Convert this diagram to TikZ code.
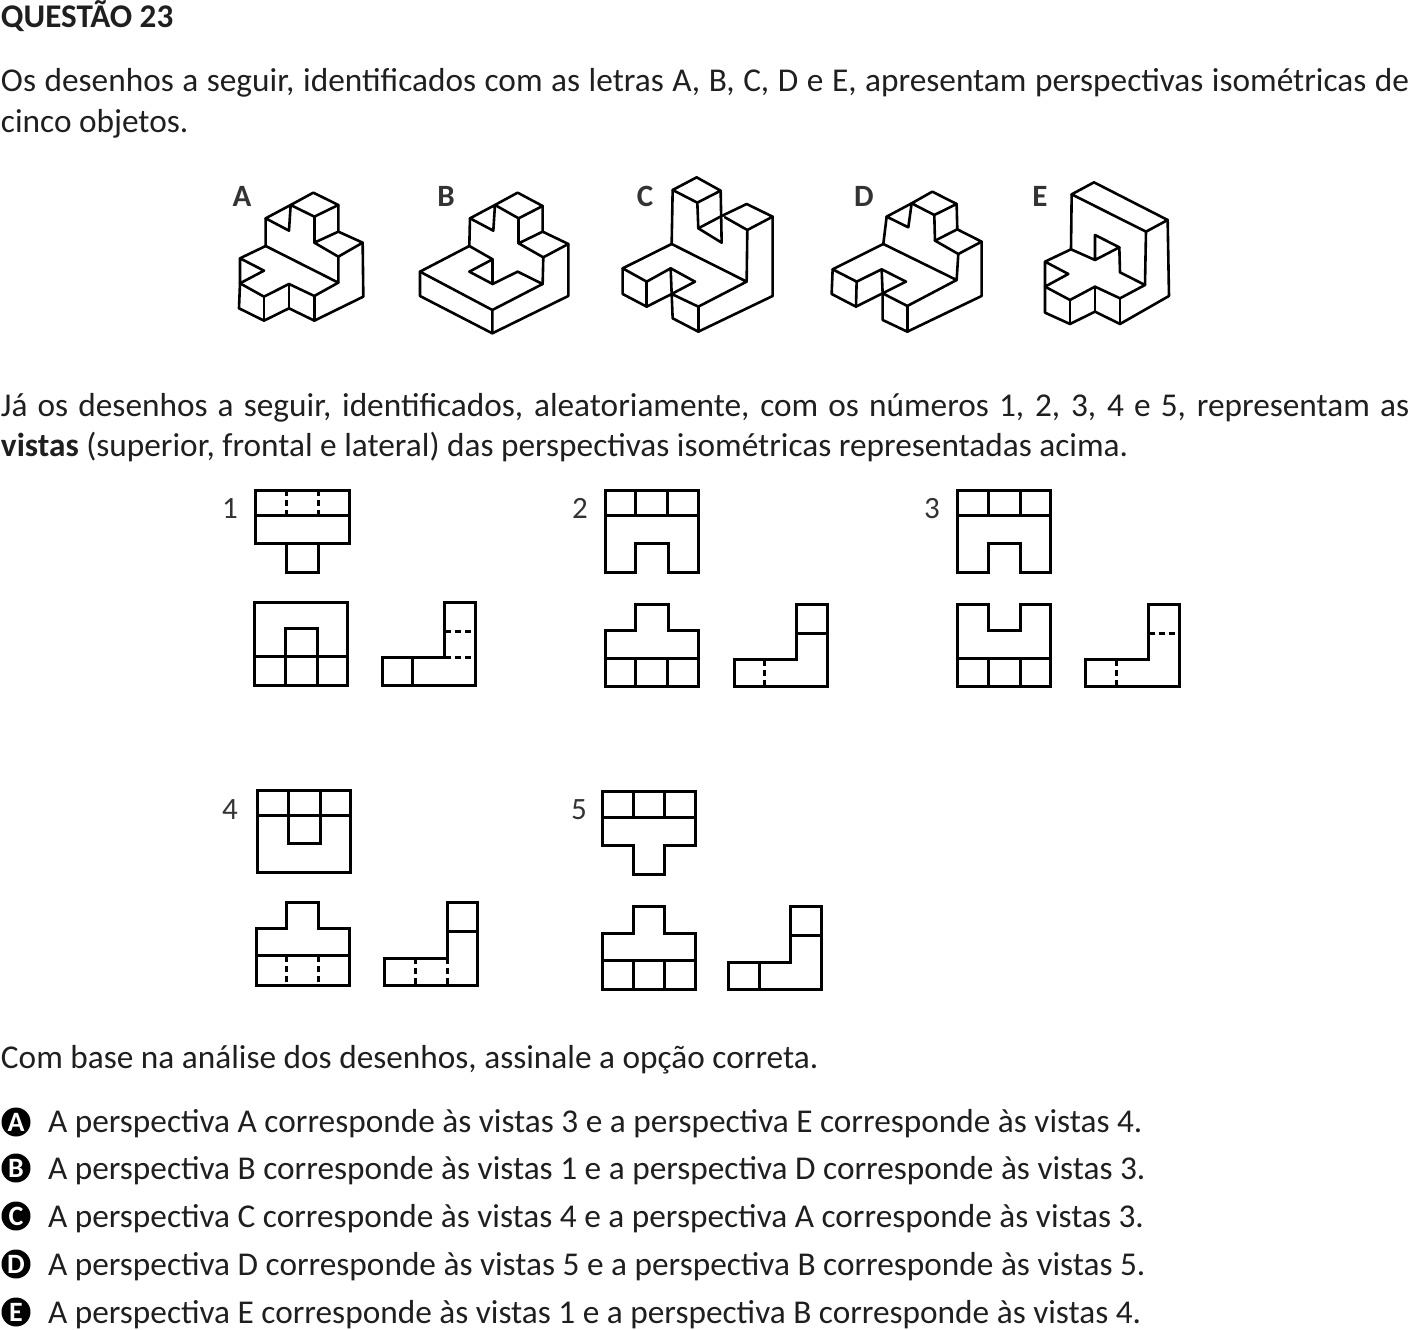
\documentclass[tikz,border=0pt]{standalone}
\usepackage{fontspec}
\setmainfont{Carlito}
\tikzset{
  bodytext/.style={anchor=base west,inner sep=0pt,outer sep=0pt,font=\fontsize{33.3}{38}\selectfont,text=black!88},
  headtext/.style={bodytext,font=\fontsize{33.1}{38}\selectfont\bfseries},
  isolabel/.style={anchor=base,inner sep=0pt,font=\fontsize{31}{36}\selectfont\bfseries,text=black!80},
  viewnum/.style={anchor=base,inner sep=0pt,font=\fontsize{31}{36}\selectfont,text=black!80},
  optcircle/.style={circle,fill=black,draw=none,minimum size=29pt,inner sep=0pt,text=white,font=\fontsize{28}{28}\selectfont\bfseries},
  isoline/.style={black,line width=2.6pt,line join=round,line cap=round},
  viewline/.style={black,line width=3pt,line join=miter},
  hiddenline/.style={black,line width=3pt,dash pattern=on 6pt off 4pt},
  zoomed/.style={x=0.3333pt,y=-0.3333pt}
}
\begin{document}
\begin{tikzpicture}[x=1pt,y=-1pt]
  \useasboundingbox (0,0) rectangle (1411,1330);
  % texts
  \node[headtext] (title) at (1,28) {QUESTÃO 23};
  \node[bodytext] (intro1) at (1,92) {\makebox[1408pt][s]{Os desenhos a seguir, identificados com as letras A, B, C, D e E, apresentam perspectivas isométricas de}};
  \node[bodytext] (intro2) at (1,132) {cinco objetos.};
  \node[bodytext] (next1) at (1,416) {\makebox[1408pt][s]{Já os desenhos a seguir, identificados, aleatoriamente, com os números 1, 2, 3, 4 e 5, representam as}};
  \node[bodytext] (next2) at (1,456) {\textbf{vistas} (superior, frontal e lateral) das perspectivas isométricas representadas acima.};
  \node[bodytext] (ask) at (1,1068) {Com base na análise dos desenhos, assinale a opção correta.};
  % options
  \node[optcircle] (ca) at (16,1122) {A};
  \node[optcircle] (cb) at (16,1168) {B};
  \node[optcircle] (cc) at (16,1216) {C};
  \node[optcircle] (cd) at (16,1264) {D};
  \node[optcircle] (ce) at (16,1312) {E};
  \node[bodytext] (oa) at (48,1132) {A perspectiva A corresponde às vistas 3 e a perspectiva E corresponde às vistas 4.};
  \node[bodytext] (ob) at (48,1179) {A perspectiva B corresponde às vistas 1 e a perspectiva D corresponde às vistas 3.};
  \node[bodytext] (oc) at (48,1227) {A perspectiva C corresponde às vistas 4 e a perspectiva A corresponde às vistas 3.};
  \node[bodytext] (od) at (48,1275) {A perspectiva D corresponde às vistas 5 e a perspectiva B corresponde às vistas 5.};
  \node[bodytext] (oe) at (48,1323) {A perspectiva E corresponde às vistas 1 e a perspectiva B corresponde às vistas 4.};
  % letters of the perspectives
  \node[isolabel] (la) at (242,206) {A};
  \node[isolabel] (lb) at (446,206) {B};
  \node[isolabel] (lc) at (645,206) {C};
  \node[isolabel] (ld) at (864,206) {D};
  \node[isolabel] (le) at (1040,206) {E};
  % numbers of the views
  \node[viewnum] (n1) at (230,518) {1};
  \node[viewnum] (n2) at (580,518) {2};
  \node[viewnum] (n3) at (932,518) {3};
  \node[viewnum] (n4) at (230,819) {4};
  \node[viewnum] (n5) at (579,819) {5};
  % perspectives A and B
  \begin{scope}[shift={(220,170)},zoomed]
    \draw[isoline] (280,68) -- (355,105) -- (283,140) -- (212,105) -- cycle;
    \draw[isoline] (355,105) -- (355,185) -- (283,218) -- (355,260) -- (428,218) -- (355,185);
    \draw[isoline] (283,140) -- (283,218);
    \draw[isoline] (212,105) -- (137,145) -- (207,182) -- cycle;
    \draw[isoline] (137,145) -- (137,228) -- (355,338) -- (355,260);
    \draw[isoline] (137,228) -- (60,265) -- (132,302) -- (60,340) -- (60,265);
    \draw[isoline] (60,340) -- (132,380) -- (207,342) -- (283,378) -- (355,338);
    \draw[isoline] (428,218) -- (430,380) -- (283,452) -- (207,415) -- (132,452) -- (57,415) -- (60,340);
    \draw[isoline] (132,380) -- (132,452);
    \draw[isoline] (207,342) -- (207,415);
    \draw[isoline] (283,378) -- (283,452);
    \draw[isoline] (893,68) -- (968,108) -- (896,145) -- (825,105) -- cycle;
    \draw[isoline] (968,108) -- (968,185) -- (896,220) -- (970,262) -- (1045,222) -- (968,185);
    \draw[isoline] (896,145) -- (896,220);
    \draw[isoline] (825,105) -- (750,145) -- (820,182) -- cycle;
    \draw[isoline] (750,145) -- (748,228) -- (818,268) -- (748,305) -- (818,342) -- (893,305) -- (968,342) -- (817,420);
    \draw[isoline] (818,268) -- (818,342);
    \draw[isoline] (970,262) -- (968,342);
    \draw[isoline] (748,228) -- (600,305) -- (817,420) -- (817,490);
    \draw[isoline] (600,305) -- (600,378) -- (817,490) -- (1045,378) -- (1045,222);
  \end{scope}
  % perspectives C and D
  \begin{scope}[shift={(600,170)},zoomed]
    \draw[isoline] (290,22) -- (362,62) -- (292,98) -- (218,60) -- cycle;
    \draw[isoline] (218,60) -- (215,222);
    \draw[isoline] (292,98) -- (295,175) -- (365,218) -- (362,62);
    \draw[isoline] (295,175) -- (365,138) -- (440,102) -- (518,140) -- (442,180) -- (375,142);
    \draw[isoline] (518,140) -- (518,378) -- (295,485) -- (218,445) -- (215,372);
    \draw[isoline] (442,180) -- (440,335);
    \draw[isoline] (215,222) -- (440,335) -- (295,410) -- (215,372) -- (285,335) -- (212,295) -- (140,335) -- (68,295) -- cycle;
    \draw[isoline] (68,295) -- (68,372) -- (140,410) -- (215,372);
    \draw[isoline] (140,335) -- (140,410);
    \draw[isoline] (212,295) -- (215,372);
    \draw[isoline] (295,410) -- (295,485);
    \draw[isoline] (997,65) -- (1070,102) -- (1003,135) -- (935,100) -- cycle;
    \draw[isoline] (935,100) -- (860,140) -- (925,172) -- cycle;
    \draw[isoline] (860,140) -- (850,222);
    \draw[isoline] (1003,135) -- (1005,212);
    \draw[isoline] (1070,102) -- (1072,178) -- (1005,212) -- (1075,252) -- (1145,215) -- (1072,178);
    \draw[isoline] (1145,215) -- (1145,378) -- (922,485) -- (848,450) -- (848,370);
    \draw[isoline] (1075,252) -- (1070,330);
    \draw[isoline] (850,222) -- (1070,330) -- (922,408) -- (848,370) -- (918,335) -- (845,298) -- (770,335) -- (698,298) -- cycle;
    \draw[isoline] (698,298) -- (695,372) -- (768,410) -- (848,370);
    \draw[isoline] (770,335) -- (768,410);
    \draw[isoline] (845,298) -- (848,370);
    \draw[isoline] (922,408) -- (922,485);
  \end{scope}
  % perspective E
  \begin{scope}[shift={(1020,170)},zoomed]
    \draw[isoline] (222,37) -- (443,150) -- (378,185) -- (155,73) -- cycle;
    \draw[isoline] (155,73) -- (153,238) -- (225,270) -- (298,232) -- (225,195) -- (225,270);
    \draw[isoline] (443,150) -- (447,378) -- (300,462) -- (225,425) -- (150,462) -- (75,428) -- (75,350);
    \draw[isoline] (378,185) -- (375,345);
    \draw[isoline] (298,232) -- (300,307) -- (375,345) -- (300,385) -- (225,350) -- (150,390) -- (75,350);
    \draw[isoline] (153,238) -- (75,275) -- (145,312) -- (75,350) -- (75,275);
    \draw[isoline] (150,390) -- (150,462);
    \draw[isoline] (225,350) -- (225,425);
    \draw[isoline] (300,385) -- (300,462);
  \end{scope}
  % views 1
  \begin{scope}[shift={(210,480)},zoomed]
    \draw[viewline] (137,30) rectangle (418,190);
    \draw[viewline] (137,107) -- (418,107);
    \draw[hiddenline] (230,30) -- (230,107);
    \draw[hiddenline] (327,30) -- (327,107);
    \draw[viewline] (230,190) -- (230,278) -- (327,278) -- (327,190);
    \draw[viewline] (133,368) rectangle (413,617);
    \draw[viewline] (133,530) -- (413,530);
    \draw[viewline] (226,617) -- (226,446) -- (322,446) -- (322,617);
    \draw[viewline] (517,533) -- (705,533) -- (705,368) -- (797,368) -- (797,617) -- (517,617) -- cycle;
    \draw[viewline] (607,533) -- (607,617);
    \draw[hiddenline] (705,455) -- (797,455);
    \draw[hiddenline] (705,533) -- (797,533);
  \end{scope}
  % views 2
  \begin{scope}[shift={(590,480)},zoomed]
    \draw[viewline] (46,30) -- (325,30) -- (325,278) -- (235,278) -- (235,190) -- (137,190) -- (137,278) -- (46,278) -- cycle;
    \draw[viewline] (46,107) -- (325,107);
    \draw[viewline] (137,30) -- (137,107);
    \draw[viewline] (233,30) -- (233,107);
    \draw[viewline] (46,452) -- (137,452) -- (137,373) -- (235,373) -- (235,452) -- (325,452) -- (325,621) -- (46,621) -- cycle;
    \draw[viewline] (46,536) -- (325,536);
    \draw[viewline] (137,536) -- (137,621);
    \draw[viewline] (233,536) -- (233,621);
    \draw[viewline] (433,539) -- (620,539) -- (620,373) -- (713,373) -- (713,621) -- (433,621) -- cycle;
    \draw[viewline] (620,461) -- (713,461);
    \draw[hiddenline] (523,539) -- (523,621);
  \end{scope}
  % views 3
  \begin{scope}[shift={(940,480)},zoomed]
    \draw[viewline] (52,30) -- (331,30) -- (331,278) -- (240,278) -- (240,190) -- (144,190) -- (144,278) -- (52,278) -- cycle;
    \draw[viewline] (52,107) -- (331,107);
    \draw[viewline] (144,30) -- (144,107);
    \draw[viewline] (240,30) -- (240,107);
    \draw[viewline] (52,373) -- (144,373) -- (144,452) -- (240,452) -- (240,373) -- (331,373) -- (331,621) -- (52,621) -- cycle;
    \draw[viewline] (52,536) -- (331,536);
    \draw[viewline] (144,536) -- (144,621);
    \draw[viewline] (240,536) -- (240,621);
    \draw[viewline] (438,539) -- (626,539) -- (626,373) -- (718,373) -- (718,621) -- (438,621) -- cycle;
    \draw[hiddenline] (626,461) -- (718,461);
    \draw[hiddenline] (530,539) -- (530,621);
  \end{scope}
  % views 4
  \begin{scope}[shift={(240,780)},zoomed]
    \draw[viewline] (53,30) rectangle (333,278);
    \draw[viewline] (53,107) -- (333,107);
    \draw[viewline] (145,30) -- (145,190) -- (241,190) -- (241,30);
    \draw[viewline] (48,447) -- (140,447) -- (140,369) -- (236,369) -- (236,447) -- (328,447) -- (328,617) -- (48,617) -- cycle;
    \draw[viewline] (48,528) -- (328,528);
    \draw[hiddenline] (140,528) -- (140,617);
    \draw[hiddenline] (236,528) -- (236,617);
    \draw[viewline] (435,535) -- (622,535) -- (622,369) -- (714,369) -- (714,617) -- (435,617) -- cycle;
    \draw[viewline] (622,455) -- (714,455);
    \draw[hiddenline] (527,535) -- (527,617);
    \draw[hiddenline] (622,535) -- (622,617);
  \end{scope}
  % views 5
  \begin{scope}[shift={(590,780)},zoomed]
    \draw[viewline] (38,33) -- (317,33) -- (317,195) -- (225,195) -- (225,283) -- (129,283) -- (129,195) -- (38,195) -- cycle;
    \draw[viewline] (38,113) -- (317,113);
    \draw[viewline] (129,33) -- (129,113);
    \draw[viewline] (225,33) -- (225,113);
    \draw[viewline] (38,461) -- (129,461) -- (129,381) -- (225,381) -- (225,461) -- (317,461) -- (317,630) -- (38,630) -- cycle;
    \draw[viewline] (38,543) -- (317,543);
    \draw[viewline] (129,543) -- (129,630);
    \draw[viewline] (225,543) -- (225,630);
    \draw[viewline] (415,547) -- (603,547) -- (603,381) -- (694,381) -- (694,630) -- (415,630) -- cycle;
    \draw[viewline] (603,467) -- (694,467);
    \draw[viewline] (508,547) -- (508,630);
  \end{scope}
\end{tikzpicture}
\end{document}
